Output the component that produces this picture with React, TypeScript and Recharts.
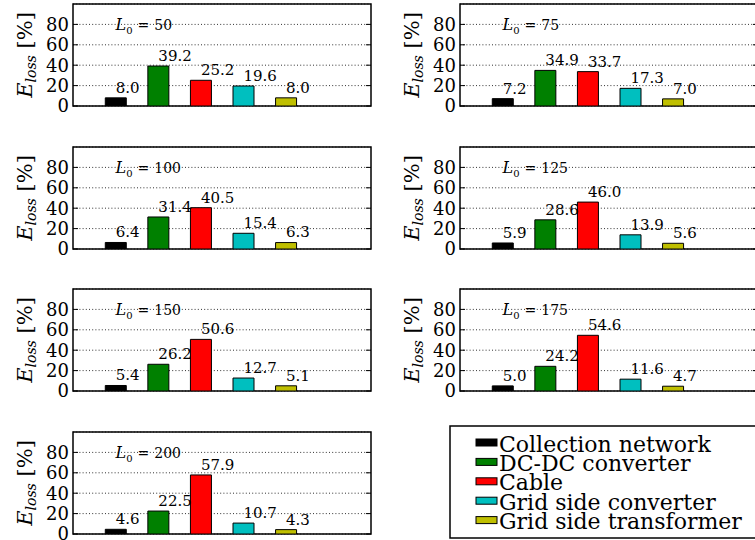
import {
  BarChart,
  Bar,
  XAxis,
  YAxis,
  CartesianGrid,
  Cell,
  LabelList,
  ReferenceArea,
  ReferenceDot,
} from "recharts";

const FONT = "'DejaVu Serif', serif";

// loss components, in bar order
const components = [
  "Collection network",
  "DC-DC converter",
  "Cable",
  "Grid side converter",
  "Grid side transformer",
];
const colors = ["#000000", "#008000", "#ff0000", "#00bfbf", "#bfbf00"];
const barPositions = [1, 2, 3, 4, 5];
const yTicks = [0, 20, 40, 60, 80];

// cable length L0 for each panel
const cableLengths = [50, 75, 100, 125, 150, 175, 200];

// energy loss share [%] per component
const loss50 = [8.0, 39.2, 25.2, 19.6, 8.0];
const loss75 = [7.2, 34.9, 33.7, 17.3, 7.0];
const loss100 = [6.4, 31.4, 40.5, 15.4, 6.3];
const loss125 = [5.9, 28.6, 46.0, 13.9, 5.6];
const loss150 = [5.4, 26.2, 50.6, 12.7, 5.1];
const loss175 = [5.0, 24.2, 54.6, 11.6, 4.7];
const loss200 = [4.6, 22.5, 57.9, 10.7, 4.3];
const lossByLength = [loss50, loss75, loss100, loss125, loss150, loss175, loss200];

// panel layout
const CHART_W = 380;
const CHART_H = 120;
const PLOT_LEFT = 73;
const PLOT_W = 298;
const PLOT_TOP = 4;
const PLOT_H = 102;
const MARGIN = {
  top: PLOT_TOP,
  right: CHART_W - PLOT_LEFT - PLOT_W,
  bottom: CHART_H - PLOT_TOP - PLOT_H,
  left: 0,
};
const COL_LEFT = [0, 387];
const ROW_TOP = [0, 142.5, 285, 427.5];
const LABEL_GAP = (5 * PLOT_H) / 100;

const YTick = (props: any) => {
  const { y, payload } = props;
  return (
    <g>
      <line x1={PLOT_LEFT} x2={PLOT_LEFT + 5} y1={y} y2={y} stroke="#000" strokeWidth={1} />
      <line x1={PLOT_LEFT + PLOT_W - 5} x2={PLOT_LEFT + PLOT_W} y1={y} y2={y} stroke="#000" strokeWidth={1} />
      <text x={PLOT_LEFT - 4} y={y} dy="0.36em" textAnchor="end" fontSize={18} fontFamily={FONT} fill="#000">
        {payload.value}
      </text>
    </g>
  );
};

const YLabel = () => (
  <text
    transform={`translate(32,${PLOT_TOP + PLOT_H / 2}) rotate(-90)`}
    textAnchor="middle"
    fontFamily={FONT}
    fontSize={20}
    fill="#000"
  >
    <tspan fontStyle="italic" fontSize={21}>E</tspan>
    <tspan fontStyle="italic" fontSize={14} dy={4}>loss</tspan>
    <tspan dy={-4} fontSize={21}>{" [%]"}</tspan>
  </text>
);

const LengthNote = ({ cx, cy, length }: any) => (
  <text x={cx} y={cy} fontFamily={FONT} fontSize={14} fill="#000">
    <tspan fontStyle="italic" fontSize={16}>L</tspan>
    <tspan fontSize={10} dy={4}>0</tspan>
    <tspan dx={5} dy={-4}>=</tspan>
    <tspan dx={5}>{length}</tspan>
  </text>
);

function LossPanel({ length, values, left, top }: { length: number; values: number[]; left: number; top: number }) {
  const data = values.map((v, i) => ({ x: barPositions[i], value: v, name: components[i] }));
  return (
    <div style={{ position: "absolute", left, top }}>
      <BarChart width={CHART_W} height={CHART_H} data={data} margin={MARGIN}>
        <CartesianGrid vertical={false} stroke="#333" strokeWidth={1} strokeDasharray="1 2.2" />
        <XAxis type="number" dataKey="x" domain={[0, 7]} hide allowDataOverflow />
        <YAxis
          type="number"
          domain={[0, 100]}
          ticks={yTicks}
          interval={0}
          allowDataOverflow
          width={PLOT_LEFT}
          axisLine={false}
          tickLine={false}
          tick={<YTick />}
          label={{ content: () => <YLabel /> }}
        />
        <Bar dataKey="value" barSize={21} stroke="#000" strokeWidth={1} isAnimationActive={false}>
          {data.map((d, i) => (
            <Cell key={d.name} fill={colors[i]} />
          ))}
          <LabelList
            dataKey="value"
            content={(p: any) => (
              <text
                x={Number(p.x) + Number(p.width) / 2}
                y={Number(p.y) - LABEL_GAP}
                fontFamily={FONT}
                fontSize={15}
                fill="#000"
              >
                {Number(p.value).toFixed(1)}
              </text>
            )}
          />
        </Bar>
        <ReferenceDot
          x={1}
          y={75}
          r={0}
          isFront
          shape={(p: any) => <LengthNote cx={p.cx} cy={p.cy} length={length} />}
        />
        <ReferenceArea x1={0} x2={7} y1={0} y2={100} fill="none" stroke="#000" strokeWidth={1.5} isFront />
      </BarChart>
    </div>
  );
}

function LossLegend() {
  return (
    <svg width={330} height={125} style={{ position: "absolute", left: 440, top: 420 }}>
      <rect x={10} y={6} width={330} height={112} fill="#fff" stroke="#000" strokeWidth={1.5} />
      {components.map((name, i) => {
        const base = 31.5 + i * 19.4;
        return (
          <g key={name}>
            <rect x={36} y={base - 12.5} width={21} height={7} fill={colors[i]} stroke="#000" strokeWidth={1} />
            <text x={59} y={base} fontFamily={FONT} fontSize={22} fill="#000">
              {name}
            </text>
          </g>
        );
      })}
    </svg>
  );
}

export default function App() {
  return (
    <div
      style={{
        position: "absolute",
        left: 0,
        top: 0,
        width: 755,
        height: 540,
        overflow: "hidden",
        background: "#fff",
        fontFamily: FONT,
      }}
    >
      {cableLengths.map((len, i) => (
        <LossPanel
          key={len}
          length={len}
          values={lossByLength[i]}
          left={COL_LEFT[i % 2]}
          top={ROW_TOP[Math.floor(i / 2)]}
        />
      ))}
      <LossLegend />
    </div>
  );
}
